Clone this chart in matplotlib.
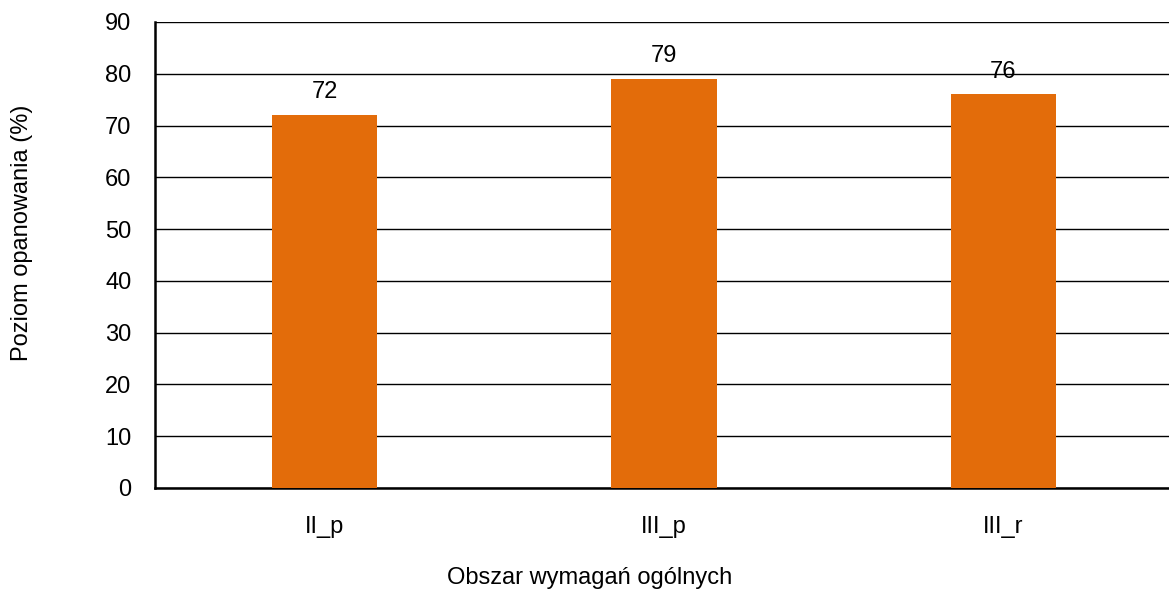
import matplotlib.pyplot as plt

## data
categories = ['II_p', 'III_p', 'III_r']
values = [72, 79, 76]

plt.rcParams['font.family'] = ['Liberation Sans', 'DejaVu Sans']

fig = plt.figure(figsize=(11.69, 5.93), dpi=100)
ax = fig.add_axes([155/1169, 1 - 488/593, 1018/1169, (488 - 22)/593])

x = range(len(categories))
ax.bar(x, values, width=0.31, color='#E36C0A', zorder=3)
for xi, v in zip(x, values):
    ax.text(xi, v + 2.3, str(v), ha='center', va='bottom', fontsize=17, zorder=4)

ax.set_xlim(-0.5, 2.5)
ax.set_ylim(0, 90)
ax.set_yticks(range(0, 91, 10))
ax.set_xticks(list(x))
ax.set_xticklabels(categories)
ax.tick_params(axis='both', length=0, labelsize=17)
ax.tick_params(axis='x', pad=20)
ax.tick_params(axis='y', pad=17)
ax.grid(axis='y', color='black', linewidth=1, zorder=0)

for s in ['top', 'right']:
    ax.spines[s].set_visible(False)
ax.spines['left'].set_linewidth(1.8)
ax.spines['bottom'].set_linewidth(1.8)

fig.text(22/1169, 1 - 233/593, 'Poziom opanowania (%)', rotation=90,
         ha='center', va='center', fontsize=17)
fig.text(590/1169, 1 - 578/593, 'Obszar wymagań ogólnych',
         ha='center', va='center', fontsize=17)

plt.savefig('out.png', dpi=100)
